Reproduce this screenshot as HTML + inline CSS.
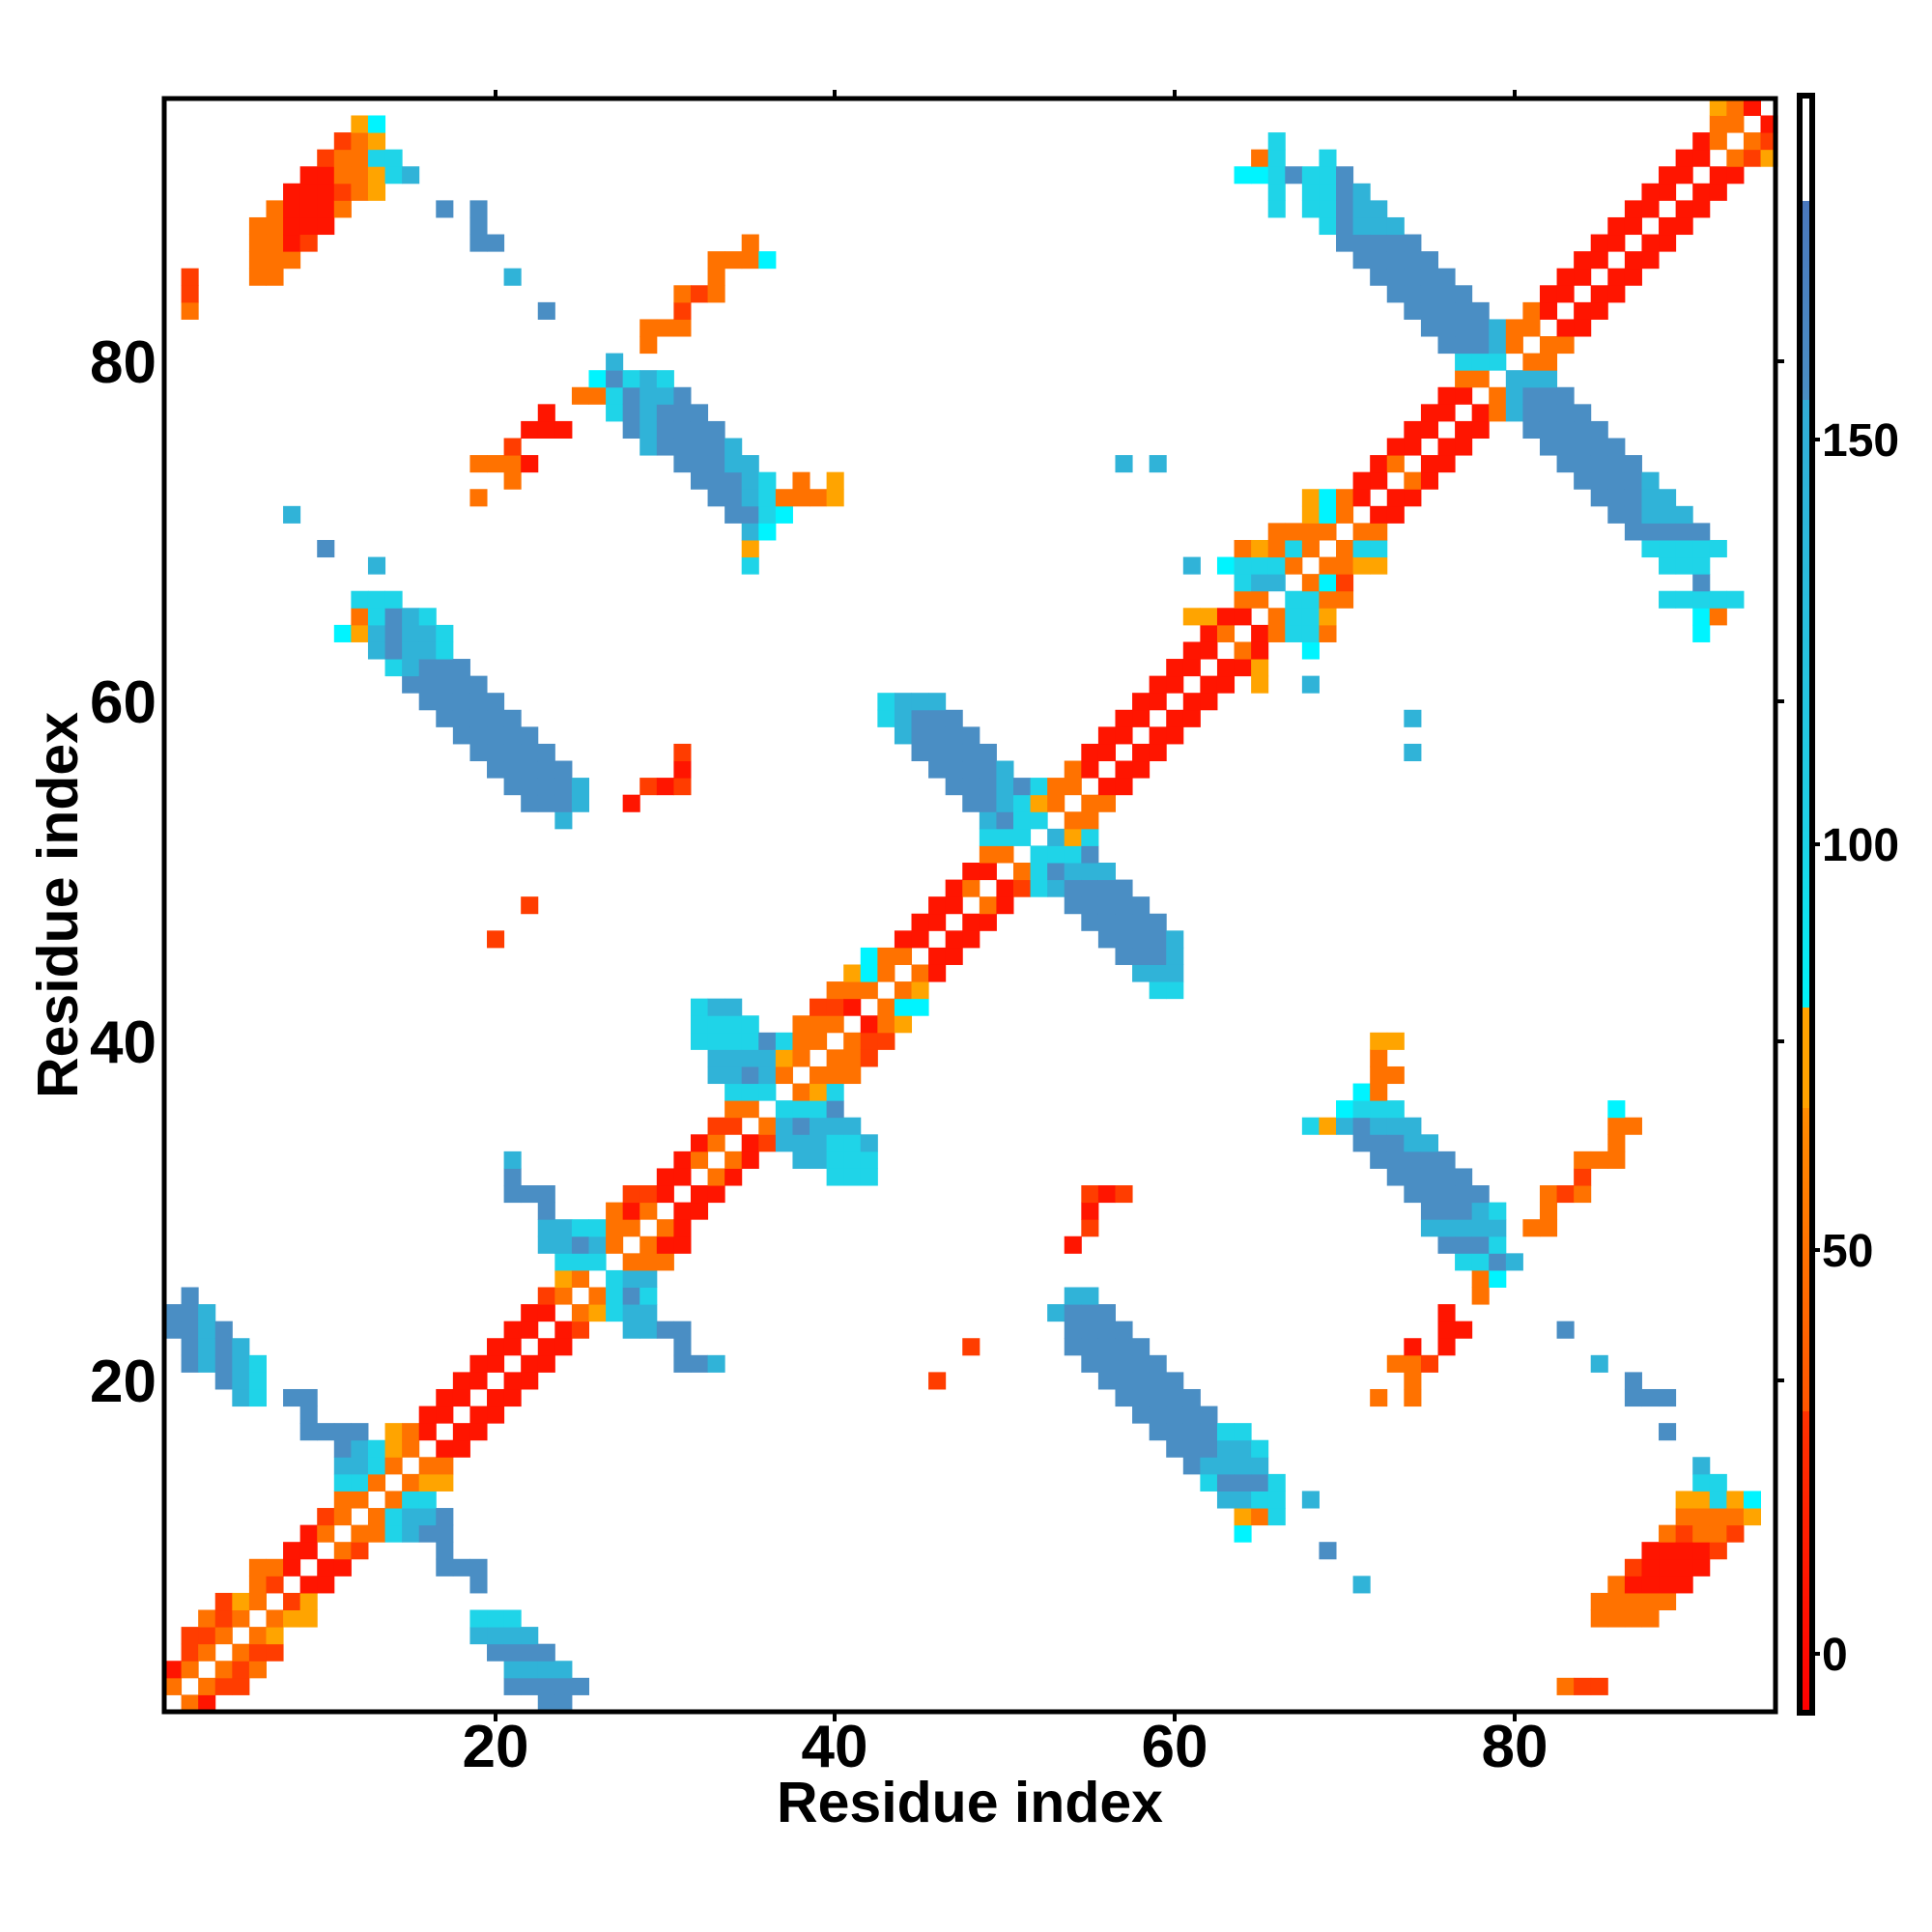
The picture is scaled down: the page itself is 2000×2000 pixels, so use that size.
<!DOCTYPE html>
<html><head><meta charset="utf-8"><style>
html,body{margin:0;padding:0;background:#fff;}
svg{display:block;}
text{font-family:"Liberation Sans",Arial,sans-serif;font-weight:bold;fill:#000;}
</style></head><body>
<svg id="s" width="2000" height="2000" viewBox="0 0 2000 2000" xmlns="http://www.w3.org/2000/svg">
<rect width="2000" height="2000" fill="#fff"/>
<g id="cells"></g>
<rect x="170" y="102" width="1668" height="1670" fill="none" stroke="#000" stroke-width="5"/>
<g stroke="#000" stroke-width="4">
<line x1="513" y1="1772" x2="513" y2="1782"/><line x1="864" y1="1772" x2="864" y2="1782"/><line x1="1216" y1="1772" x2="1216" y2="1782"/><line x1="1568" y1="1772" x2="1568" y2="1782"/>
<line x1="513" y1="102" x2="513" y2="93"/><line x1="864" y1="102" x2="864" y2="93"/><line x1="1216" y1="102" x2="1216" y2="93"/><line x1="1568" y1="102" x2="1568" y2="93"/>
<line x1="1838" y1="1429" x2="1847" y2="1429"/><line x1="1838" y1="1078" x2="1847" y2="1078"/><line x1="1838" y1="726" x2="1847" y2="726"/><line x1="1838" y1="374" x2="1847" y2="374"/>
</g>
<g font-size="62" text-anchor="middle">
<text x="513" y="1829">20</text><text x="864" y="1829">40</text><text x="1216" y="1829">60</text><text x="1568" y="1829">80</text>
</g>
<g font-size="62" text-anchor="end">
<text x="162" y="1451">20</text><text x="162" y="1100">40</text><text x="162" y="748">60</text><text x="162" y="396">80</text>
</g>
<text x="1004" y="1886" font-size="59" text-anchor="middle">Residue index</text>
<text transform="translate(80,937) rotate(-90)" font-size="59" text-anchor="middle">Residue index</text>
<defs>
<linearGradient id="gb" x1="0" y1="0" x2="0" y2="1">
<stop offset="0" stop-color="#4a78bd"/><stop offset="1" stop-color="#4a8ec4"/></linearGradient>
<linearGradient id="gc" x1="0" y1="0" x2="0" y2="1">
<stop offset="0" stop-color="#32acd6"/><stop offset="0.7" stop-color="#1fd0e6"/><stop offset="1" stop-color="#00f4f8"/></linearGradient>
<linearGradient id="go" x1="0" y1="0" x2="0" y2="1">
<stop offset="0" stop-color="#ff8c00"/><stop offset="1" stop-color="#ff5500"/></linearGradient>
<linearGradient id="gr" x1="0" y1="0" x2="0" y2="1">
<stop offset="0" stop-color="#ff3300"/><stop offset="1" stop-color="#ff0000"/></linearGradient>
</defs>
<rect x="1866" y="102" width="7" height="106" fill="#fff"/>
<rect x="1866" y="208" width="7" height="206" fill="url(#gb)"/>
<rect x="1866" y="414" width="7" height="629" fill="url(#gc)"/>
<rect x="1866" y="1043" width="7" height="104" fill="#ffa200"/>
<rect x="1866" y="1147" width="7" height="314" fill="url(#go)"/>
<rect x="1866" y="1461" width="7" height="309" fill="url(#gr)"/>
<rect x="1863" y="99" width="13" height="1674" fill="none" stroke="#000" stroke-width="6"/>
<g stroke="#000" stroke-width="4">
<line x1="1876" y1="455" x2="1884" y2="455"/><line x1="1876" y1="874" x2="1884" y2="874"/><line x1="1876" y1="1294" x2="1884" y2="1294"/><line x1="1876" y1="1712" x2="1884" y2="1712"/>
</g>
<g font-size="48" text-anchor="start">
<text x="1886" y="472">150</text><text x="1886" y="891">100</text><text x="1886" y="1311">50</text><text x="1886" y="1729">0</text>
</g>
</svg>
<script>
(function(){
var R='#ff1500',Q='#ff3d00',O='#ff7200',A='#ffa400',C='#1fd4e8',K='#00f4ff',L='#30b3d8',S='#4a8ec4';
var D=[
[31,28,29,Q],[31,30,30,R],[31,32,32,R],
[30,23,23,S],[30,27,27,O],[30,28,28,R],[30,29,29,O],[30,31,32,R],
[29,23,24,L],[29,25,26,C],[29,27,28,O],[29,30,30,O],[29,31,31,R],
[28,23,24,L],[28,25,25,S],[28,26,26,L],[28,27,27,O],[28,29,29,O],[28,30,31,R],
[27,24,26,C],[27,28,30,O],
[26,24,24,A],[26,25,25,O],[26,27,27,C],[26,28,29,L],
[25,23,23,Q],[25,24,24,O],[25,26,26,O],[25,27,27,C],[25,28,28,S],[25,29,29,C],
[24,22,23,R],[24,25,25,O],[24,26,26,A],[24,27,27,C],[24,28,29,L],
[23,21,22,R],[23,24,24,R],[23,25,25,Q],[23,28,29,L],[23,30,31,S],
[22,20,21,R],[22,23,24,R],[22,31,31,S],
[21,19,20,R],[21,22,23,R],[21,31,32,S],
[20,18,19,R],[20,21,22,R],
[19,17,18,R],[19,20,21,R],[19,8,9,S],
[18,16,17,R],[18,19,20,R],[18,9,9,S],
[17,14,14,A],[17,15,15,O],[17,16,16,R],[17,18,19,R],[17,9,12,S],
[16,11,11,S],[16,12,12,L],[16,13,13,C],[16,14,14,A],[16,15,15,O],[16,17,18,R],
[15,11,12,L],[15,13,13,C],[15,14,14,O],[15,16,17,O],
[14,11,12,C],[14,13,13,O],[14,15,15,O],[14,16,17,A],
[13,11,12,O],[13,14,14,O],[13,15,16,C],
[12,10,10,Q],[12,11,11,O],[12,13,13,O],[12,14,14,C],[12,15,16,L],[12,17,17,S],
[11,9,9,R],[11,10,10,O],[11,12,13,O],[11,14,14,C],[11,15,15,L],[11,16,17,S],
[10,8,9,R],[10,11,11,O],[10,12,12,Q],[10,17,17,S],
[9,6,7,O],[9,8,8,R],[9,10,11,R],[9,17,19,S],
[8,6,6,O],[8,7,7,Q],[8,9,10,R],[8,19,19,S],
[7,4,4,Q],[7,5,5,A],[7,6,6,O],[7,8,8,Q],[7,9,9,A],
[6,3,3,O],[6,4,4,Q],[6,5,5,O],[6,7,7,O],[6,8,9,A],[6,19,21,C],
[5,2,2,Q],[5,3,3,Q],[5,4,4,O],[5,6,6,O],[5,7,7,A],[5,19,22,L],
[4,2,2,Q],[4,3,3,O],[4,5,5,O],[4,6,7,Q],[4,20,23,S],
[3,1,1,R],[3,2,2,O],[3,4,4,O],[3,5,5,Q],[3,6,6,O],[3,21,24,L],
[2,1,1,O],[2,3,3,O],[2,4,5,Q],[2,21,25,S],
[1,2,2,O],[1,3,3,R],[1,23,24,S],
[31,55,55,Q],[31,56,56,R],[31,57,57,Q],[30,55,55,R],[29,55,55,Q],[28,54,54,R],[22,48,48,Q],[20,46,46,Q],[21,33,33,L],
[25,54,55,L],[24,53,53,L],[24,54,56,S],[23,54,57,S],[22,54,58,S],[21,55,59,S],[20,56,60,S],[19,57,61,S],[18,58,62,S],[17,59,62,S],[17,63,64,C],[16,60,62,S],[16,63,64,L],[15,61,61,S],[15,62,64,L],[14,62,62,C],[14,63,64,S],[13,63,64,L],[12,64,64,A],[11,64,64,K],
[31,74,78,S],[31,82,82,O],[31,83,83,Q],[31,84,84,O],[30,75,77,S],[30,78,78,L],[30,79,79,C],[30,82,82,O],[29,75,79,L],[29,81,82,O],[28,76,78,S],[28,79,79,C],[27,77,78,C],[27,79,79,S],[27,80,80,L],[26,78,78,O],[26,79,79,K],[25,78,78,O],[24,76,76,R],[23,76,77,R],[23,83,83,S],[22,74,74,R],[22,76,76,R],[21,73,74,O],[21,75,75,Q],[21,85,85,L],[20,74,74,O],[20,87,87,S],[19,72,72,O],[19,74,74,O],[19,87,89,S],[17,89,89,S],[15,91,91,L],[14,91,92,C],[13,90,91,A],[13,92,92,C],[13,93,93,A],[13,94,94,K],[12,90,93,O],[12,94,94,A],[11,89,89,O],[11,90,90,Q],[11,91,92,O],[11,93,93,Q],[10,88,91,R],[10,92,92,Q],[9,87,87,Q],[9,88,91,R],[8,86,86,O],[8,87,90,R],[7,85,89,O],[6,85,88,O],[2,83,83,O],[2,84,85,Q],
[16,65,65,C],[15,65,65,L],[14,65,65,S],[14,66,66,C],[13,65,66,C],[13,68,68,L],[12,65,65,O],[12,66,66,C],[10,69,69,S],[8,71,71,L],
[63,65,65,R],[63,68,68,K],[62,65,65,A],[61,65,65,A],[61,68,68,L],[59,74,74,L],[57,74,74,L],[40,72,73,A],[39,72,72,O],[38,72,73,O],[37,71,71,K],[37,72,72,O],[36,70,70,K],[36,71,73,C],[36,86,86,K],[35,68,68,C],[35,69,69,A],[35,70,70,L],[35,71,71,S],[35,72,74,L],[35,86,87,O],[34,71,73,S],[34,74,75,L],[34,86,86,O],[33,72,76,S],[33,84,86,O],[32,73,77,S],[32,84,84,Q],
[53,49,49,L],[53,50,50,S],[53,51,52,C],
[52,49,51,C],[52,53,53,L],[52,54,54,A],[52,55,55,C],
[51,49,50,O],[51,52,54,C],[51,55,55,S],
[50,48,49,R],[50,51,51,O],[50,52,52,C],[50,53,53,S],[50,54,56,L],
[49,47,47,R],[49,48,48,O],[49,50,50,R],[49,51,51,Q],[49,52,52,C],[49,53,53,L],[49,54,57,S],
[48,46,47,R],[48,49,49,O],[48,50,50,R],[48,54,58,S],
[47,45,46,R],[47,48,49,R],[47,55,59,S],
[46,44,45,R],[46,47,48,R],[46,56,59,S],[46,60,60,L],
[45,42,42,K],[45,43,44,O],[45,46,47,R],[45,57,59,S],[45,60,60,L],
[44,41,41,A],[44,42,42,K],[44,43,43,O],[44,45,45,O],[44,46,46,R],[44,58,60,L],
[43,40,42,O],[43,44,44,O],[43,45,45,A],[43,59,60,C],
[42,33,34,L],[42,39,40,Q],[42,41,41,R],[42,43,43,O],[42,44,45,K],
[41,33,35,C],[41,38,40,O],[41,42,42,R],[41,43,43,O],[41,44,44,A],
[40,33,35,C],[40,36,36,S],[40,37,37,C],[40,38,39,O],[40,41,41,O],[40,42,42,Q],[40,43,43,Q],
[39,33,36,L],[39,37,37,A],[39,38,38,O],[39,40,41,O],[39,42,42,Q],
[38,33,34,L],[38,35,35,S],[38,36,36,L],[38,37,37,O],[38,39,41,O],
[37,34,36,C],[37,38,38,O],[37,39,39,A],[37,40,40,C],
[36,34,35,O],[36,37,39,C],[36,40,40,S],
[35,33,34,Q],[35,36,36,O],[35,37,37,L],[35,38,38,S],[35,39,41,L],
[34,33,33,O],[34,35,35,R],[34,36,36,Q],[34,37,39,L],[34,40,41,C],[34,42,42,L],
[33,34,34,O],[33,35,35,R],[33,38,39,L],[33,40,42,C],
[32,33,33,O],[32,34,34,R],[32,40,42,C],
[80,77,79,C],[80,81,82,O],
[79,77,78,O],[79,80,82,L],
[78,76,77,R],[78,79,79,O],[78,80,80,L],[78,81,83,S],
[77,75,76,R],[77,78,78,R],[77,79,79,O],[77,80,80,L],[77,81,84,S],
[76,74,75,R],[76,77,78,R],[76,81,85,S],
[75,73,74,R],[75,76,77,R],[75,82,86,S],
[74,72,72,R],[74,73,73,O],[74,75,76,R],[74,83,87,S],
[73,71,72,R],[73,74,74,O],[73,75,75,R],[73,84,87,S],[73,88,88,L],
[72,68,68,A],[72,69,69,K],[72,70,70,O],[72,71,71,R],[72,73,74,R],[72,85,87,S],[72,88,89,L],
[71,68,68,A],[71,69,69,K],[71,70,70,O],[71,72,73,R],[71,86,87,S],[71,88,90,L],
[70,66,69,O],[70,71,72,O],[70,87,91,S],
[69,65,65,A],[69,66,66,O],[69,67,67,C],[69,68,68,O],[69,70,70,O],[69,71,72,C],[69,88,92,C],
[68,65,66,C],[68,67,67,O],[68,69,70,O],[68,71,72,A],[68,89,91,C],
[67,65,66,L],[67,68,68,O],[67,69,69,K],[67,70,70,Q],[67,91,91,S],
[66,65,65,O],[66,67,68,C],[66,69,70,O],[66,89,93,C],
[65,66,66,O],[65,67,68,C],[65,69,69,A],[65,91,91,K],[65,92,92,O],
[64,65,65,R],[64,66,66,O],[64,67,68,C],[64,69,69,O],[64,91,91,K],
[95,92,92,A],[95,93,93,O],[95,94,94,R],[94,92,93,O],[94,95,95,R],[93,91,91,R],[93,92,92,O],[93,94,94,O],[93,95,95,Q],[92,90,91,R],[92,93,93,O],[92,94,94,Q],[92,95,95,A]
];
var ex={},mir={};
D.forEach(function(d){for(var i=d[1];i<=d[2];i++){ex[i+','+d[0]]=d[3];}});
Object.keys(ex).forEach(function(k){var p=k.split(',');var mk=p[1]+','+p[0];if(!(mk in ex))mir[mk]=ex[k];});
var seg=[[13,O],[16,O],[23,R],[28,O],[35,R],[44,O],[50,R],[55,O],[63,R],[72,O],[80,R],[82,O],[92,R],[96,O]];
function gen(i,j){var d=Math.abs(i-j);if(d<1||d>2)return null;var m=(i+j)/2;for(var s=0;s<seg.length;s++){if(m<=seg[s][0])return seg[s][1];}return R;}
var g=document.getElementById('cells'),ns='http://www.w3.org/2000/svg',cs=17.58;
for(var i=1;i<=95;i++){for(var j=1;j<=95;j++){var k=i+','+j;var c=ex[k]||mir[k]||gen(i,j);if(!c)continue;
var r=document.createElementNS(ns,'rect');r.setAttribute('x',(170+(i-1)*cs).toFixed(2));r.setAttribute('y',(1772-j*cs).toFixed(2));
r.setAttribute('width',(cs+0.5).toFixed(2));r.setAttribute('height',(cs+0.5).toFixed(2));r.setAttribute('fill',c);g.appendChild(r);}}
})();
</script>
</body></html>
